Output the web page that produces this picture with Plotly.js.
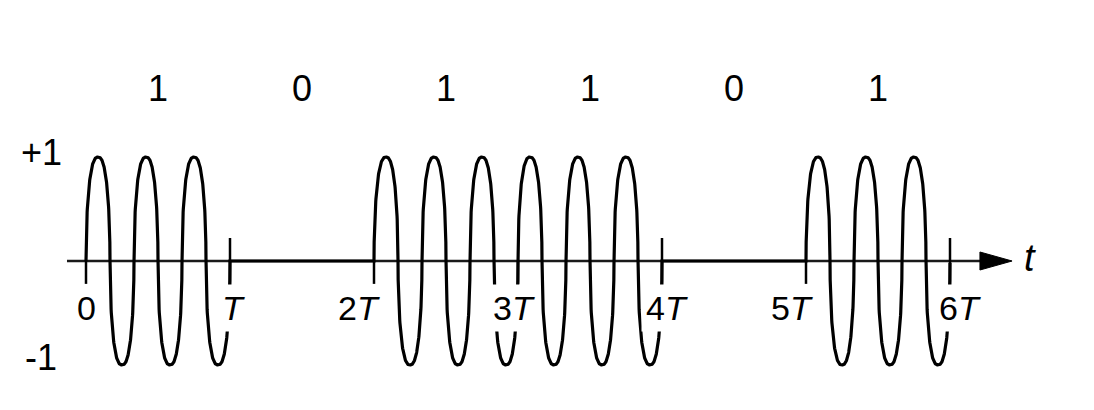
<!DOCTYPE html>
<html>
<head>
<meta charset="utf-8">
<script src="https://cdn.plot.ly/plotly-3.0.1.min.js"></script>
<style>html,body{margin:0;padding:0;background:#fff;}#chart{width:1094px;height:410px;}</style>
</head>
<body>
<div id="chart"></div>
<script>
// ---- data ----
const bits = [1, 0, 1, 1, 0, 1];
const bitLabels = ['1', '0', '1', '1', '0', '1'];
const tickValues = [0, 1, 2, 3, 4, 5, 6];
const tickLabels = ['0', '<i>T</i>', '2<i>T</i>', '3<i>T</i>', '4<i>T</i>', '5<i>T</i>', '6<i>T</i>'];
const levelValues = [1, -1];
const levelLabels = ['+1', '-1'];
const cyclesPerBit = 3;
const axisLabel = '<i>t</i>';

// ---- build modulated waveform (on-off keying of the bits) ----
// carrier drawn with the rounded, full lobes of the original sketch
function carrier(phase) {            // phase in cycles
  const half = Math.floor(phase * 2);
  const u = phase * 2 - half;        // position inside a half-cycle, 0..1
  const sgn = half % 2 === 0 ? 1 : -1;
  const d = Math.abs(2 * u - 1);
  return sgn * Math.sqrt(Math.max(0, 1 - Math.pow(d, 2.5)));
}
const xs = [], ys = [];
const samplesPerBit = 900;
bits.forEach((b, i) => {
  for (let k = 0; k <= samplesPerBit; k++) {
    const u = k / samplesPerBit;
    xs.push(i + u);
    ys.push(b ? carrier(cyclesPerBit * u * 0.99999) : 0);
  }
});

const FONT = 'Liberation Sans, Arial, sans-serif';
const FS = 36;
const shapes = [];
// horizontal axis line
shapes.push({type: 'line', xref: 'x', yref: 'y', x0: -0.132, x1: 6.25, y0: 0, y1: 0,
  line: {color: '#1a1a1a', width: 2.5}, layer: 'below'});
// arrow head
shapes.push({type: 'path', xref: 'x', yref: 'y',
  path: 'M 6.208 0.0865 L 6.431 0 L 6.208 -0.0865 Z',
  fillcolor: '#000', line: {color: '#000', width: 1}});

// ticks: full tick where a 1-bit ends (next is 0 or end), lower half elsewhere
tickValues.forEach((t, i) => {
  const prev = i > 0 ? bits[i - 1] : 0;
  const next = i < bits.length ? bits[i] : 0;
  const full = prev === 1 && next !== 1;
  shapes.push({type: 'line', xref: 'x', yref: 'y', x0: t, x1: t,
    y0: full ? 0.221 : 0, y1: full ? -0.27 : -0.22,
    line: {color: '#000', width: 2.5}, layer: 'below'});
});

const annotations = [];
const tickShift = [0, 3, -15, -4, 5, -14, 10];
tickValues.forEach((t, i) => {
  annotations.push({x: t, y: -0.45, xref: 'x', yref: 'y', text: tickLabels[i],
    showarrow: false, xanchor: 'center', yanchor: 'middle', xshift: tickShift[i],
    bgcolor: i === 0 || i === 2 || i === 5 ? 'rgba(0,0,0,0)' : '#fff', borderpad: 4,
    font: {family: FONT, size: FS - 2, color: '#000'}});
});
bitLabels.forEach((s, i) => {
  annotations.push({x: i + 0.5, y: 1.66, xref: 'x', yref: 'y', text: s, showarrow: false,
    xanchor: 'center', yanchor: 'middle', font: {family: FONT, size: FS, color: '#000'}});
});
const levelY = [1.04, -0.93];
levelValues.forEach((v, i) => {
  annotations.push({x: -0.31, y: levelY[i], xref: 'x', yref: 'y', text: levelLabels[i], showarrow: false,
    xanchor: 'center', yanchor: 'middle', font: {family: FONT, size: FS, color: '#000'}});
});
annotations.push({x: 6.556, y: 0.03, xref: 'x', yref: 'y', text: axisLabel, showarrow: false,
  xanchor: 'center', yanchor: 'middle', font: {family: FONT, size: FS + 2, color: '#000'}});

const trace = {x: xs, y: ys, type: 'scatter', mode: 'lines',
  line: {color: '#000', width: 3.2, shape: 'linear'}, hoverinfo: 'skip'};

const layout = {
  width: 1094, height: 410,
  margin: {l: 0, r: 0, t: 0, b: 0},
  paper_bgcolor: '#fff', plot_bgcolor: '#fff',
  showlegend: false,
  xaxis: {range: [-86 / 144, 1008 / 144], visible: false, fixedrange: true},
  yaxis: {range: [-149 / 104, 261 / 104], visible: false, fixedrange: true},
  shapes: shapes,
  annotations: annotations
};
Plotly.newPlot('chart', [trace], layout, {displayModeBar: false, staticPlot: true});
</script>
</body>
</html>
